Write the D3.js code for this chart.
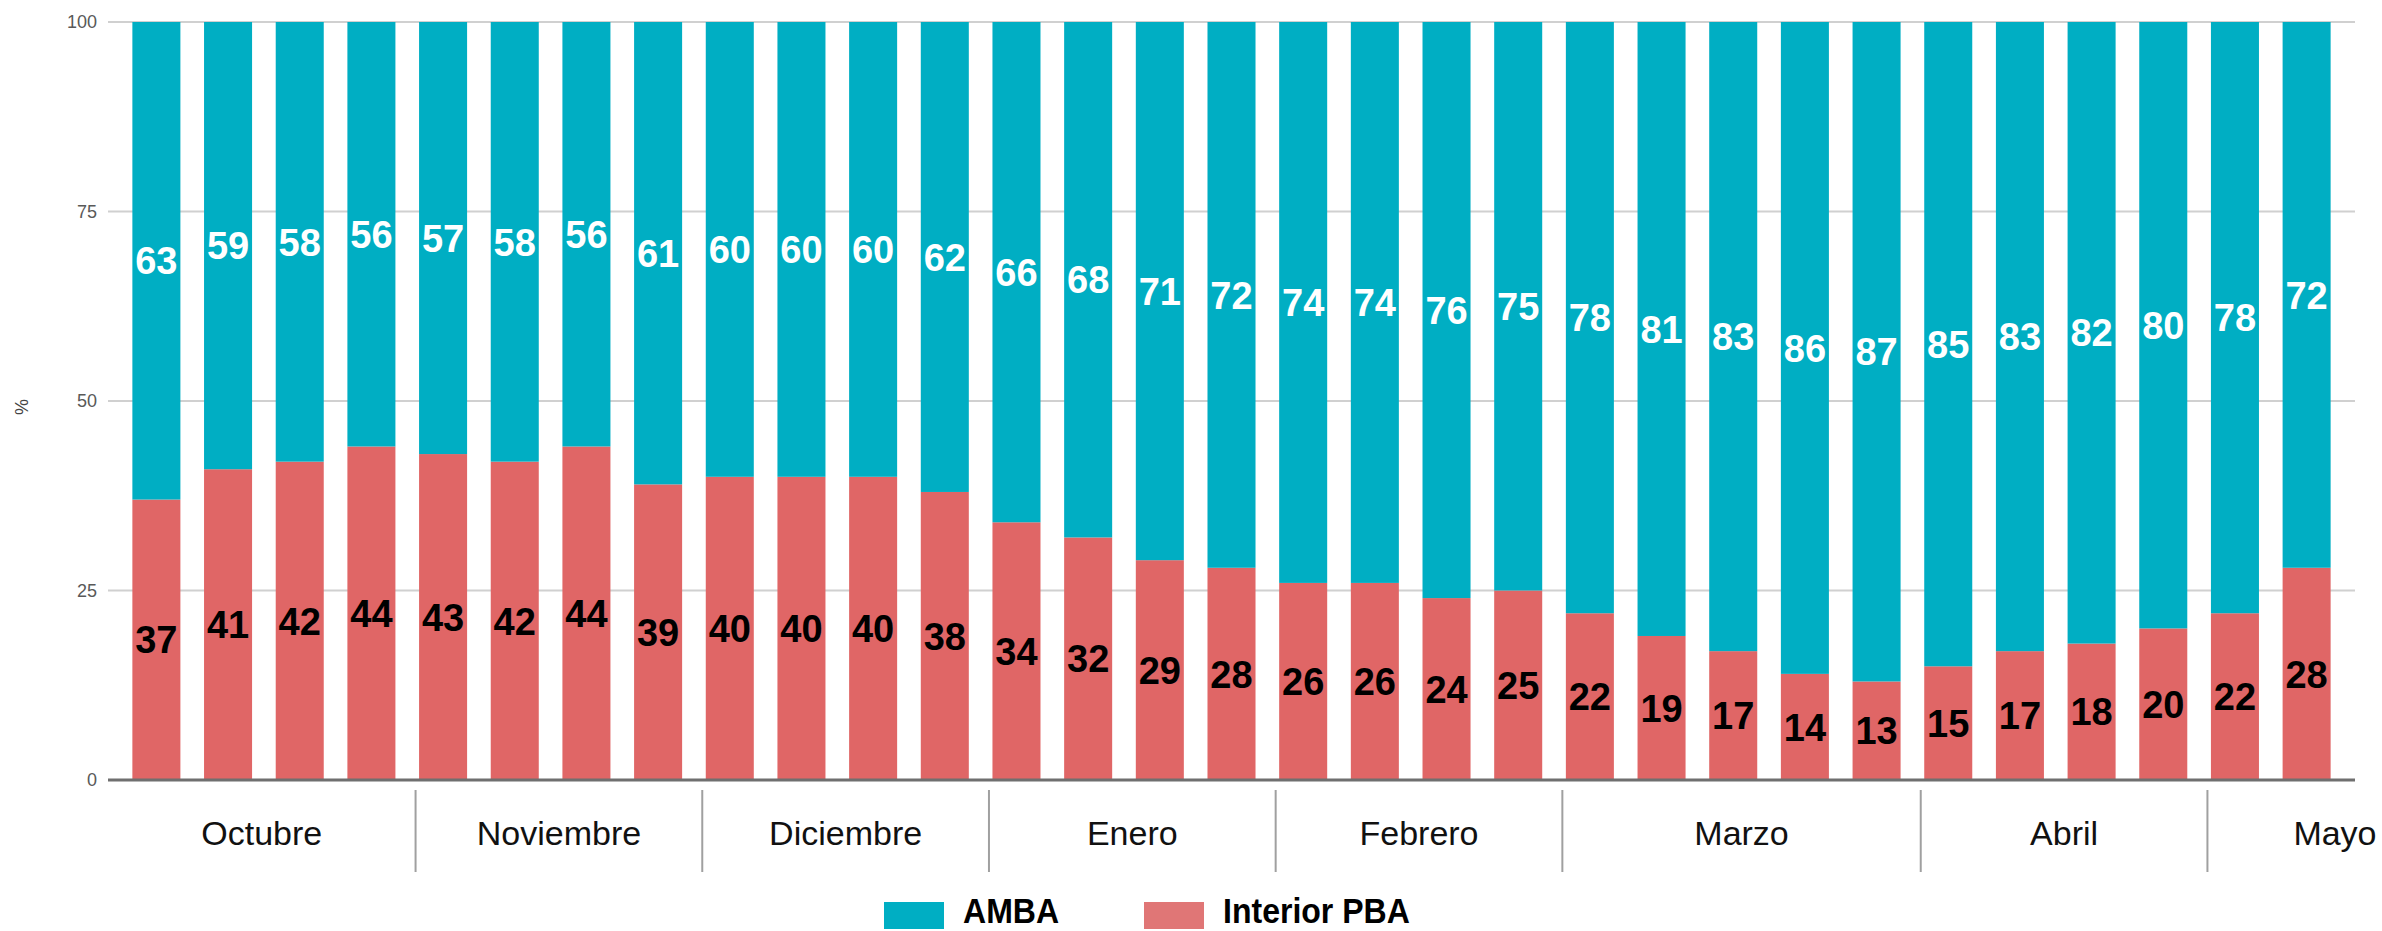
<!DOCTYPE html>
<html lang="es">
<head>
  <meta charset="UTF-8">
  <title>AMBA vs Interior PBA (%)</title>
  <script src="https://d3js.org/d3.v7.min.js"></script>
  <style>
    body {
      margin: 0;
      background: #fff;
      font-family: "Liberation Sans", Arial, sans-serif;
    }

    svg {
      display: block;
    }

    .grid line {
      stroke: #d0d0d0;
      stroke-width: 2px;
    }

    .tick-label {
      font-size: 18px;
      fill: #595959;
    }

    .value {
      font-size: 38px;
      font-weight: bold;
    }

    .month {
      font-size: 34px;
      fill: #111;
    }

    .legend {
      font-size: 36px;
      font-weight: bold;
      fill: #000;
    }
  </style>
</head>
<body>
  <svg width="2382" height="931"></svg>

  <script>
    // Data, one entry per bar (weekly shares, %)
    const amba     = [63, 59, 58, 56, 57, 58, 56, 61, 60, 60, 60, 62, 66, 68, 71, 72, 74, 74, 76, 75, 78, 81, 83, 86, 87, 85, 83, 82, 80, 78, 72];
    const interior = [37, 41, 42, 44, 43, 42, 44, 39, 40, 40, 40, 38, 34, 32, 29, 28, 26, 26, 24, 25, 22, 19, 17, 14, 13, 15, 17, 18, 20, 22, 28];
    const months    = ["Octubre", "Noviembre", "Diciembre", "Enero", "Febrero", "Marzo", "Abril", "Mayo"];
    const monthBars = [4, 4, 4, 4, 4, 5, 4, 2];
    const yTicks    = [0, 25, 50, 75, 100];
    const seriesNames = ["AMBA", "Interior PBA"];

    const svg = d3.select("svg");
    const margin = { top: 22, bottom: 151, left: 108, right: 27 };
    const width = 2382, height = 931;

    const colors = d3.scaleOrdinal()
      .domain(seriesNames)
      .range(["#00aec3", "#e06666"]);

    const x = d3.scaleBand()
      .domain(d3.range(amba.length))
      .range([margin.left, width - margin.right])
      .paddingInner(0.33)
      .paddingOuter(0.34);

    const y = d3.scaleLinear()
      .domain([0, 100])
      .range([height - margin.bottom, margin.top]);

    // Gridlines + tick labels
    const grid = svg.append("g").attr("class", "grid");
    grid.selectAll("line")
      .data(yTicks.filter(d => d > 0))
      .enter().append("line")
      .attr("x1", margin.left)
      .attr("x2", width - margin.right)
      .attr("y1", d => y(d))
      .attr("y2", d => y(d));

    svg.selectAll(".tick-label")
      .data(yTicks)
      .enter().append("text")
      .attr("class", "tick-label")
      .attr("x", margin.left - 11)
      .attr("y", d => y(d))
      .attr("dy", "0.35em")
      .attr("text-anchor", "end")
      .text(d => d);

    svg.append("text")
      .attr("transform", `translate(22,${(y(0) + y(100)) / 2 + 6}) rotate(-90)`)
      .attr("text-anchor", "middle")
      .attr("dy", "0.35em")
      .style("font-size", "18px")
      .style("fill", "#444")
      .text("%");

    // Stacked bars
    const rows = amba.map((a, i) => ({ i, amba: a, interior: interior[i] }));

    const bars = svg.append("g");
    bars.selectAll(".bar-int")
      .data(rows)
      .enter().append("rect")
      .attr("x", d => x(d.i))
      .attr("width", x.bandwidth())
      .attr("y", d => y(d.interior))
      .attr("height", d => y(0) - y(d.interior))
      .attr("fill", colors("Interior PBA"));

    bars.selectAll(".bar-amba")
      .data(rows)
      .enter().append("rect")
      .attr("x", d => x(d.i))
      .attr("width", x.bandwidth())
      .attr("y", d => y(d.interior + d.amba))
      .attr("height", d => y(d.interior) - y(d.interior + d.amba))
      .attr("fill", colors("AMBA"));

    // Zero axis line
    svg.append("line")
      .attr("x1", margin.left)
      .attr("x2", width - margin.right)
      .attr("y1", y(0))
      .attr("y2", y(0))
      .attr("stroke", "#6f6f6f")
      .attr("stroke-width", 3);

    // Value labels
    svg.selectAll(".v-amba")
      .data(rows)
      .enter().append("text")
      .attr("class", "value")
      .attr("x", d => x(d.i) + x.bandwidth() / 2)
      .attr("y", d => (y(d.interior) + y(d.interior + d.amba)) / 2)
      .attr("dy", "0.36em")
      .attr("text-anchor", "middle")
      .attr("fill", "#fff")
      .text(d => d.amba);

    svg.selectAll(".v-int")
      .data(rows)
      .enter().append("text")
      .attr("class", "value")
      .attr("x", d => x(d.i) + x.bandwidth() / 2)
      .attr("y", d => (y(0) + y(d.interior)) / 2)
      .attr("dy", "0.36em")
      .attr("text-anchor", "middle")
      .attr("fill", "#000")
      .text(d => d.interior);

    // Month groups: separators and labels
    const starts = monthBars.map((n, k) => d3.sum(monthBars.slice(0, k)));
    const seps = starts.slice(1).map(s => x(s) - 3.5);
    const bounds = [margin.left, ...seps, width - margin.right + 1.5 * x.step()];

    svg.selectAll(".sep")
      .data(seps)
      .enter().append("line")
      .attr("x1", d => d)
      .attr("x2", d => d)
      .attr("y1", y(0) + 10)
      .attr("y2", y(0) + 92)
      .attr("stroke", "#a0a0a0")
      .attr("stroke-width", 2);

    svg.selectAll(".month")
      .data(months)
      .enter().append("text")
      .attr("class", "month")
      .attr("x", (d, k) => (bounds[k] + bounds[k + 1]) / 2)
      .attr("y", y(0) + 65)
      .attr("text-anchor", "middle")
      .text(d => d);

    // Legend (text squeezed to mimic the condensed face)
    const legendX = [884, 1144];
    const legend = svg.selectAll(".legend-item")
      .data(seriesNames)
      .enter().append("g")
      .attr("transform", (d, i) => `translate(${legendX[i]},902)`);

    legend.append("rect")
      .attr("width", 60)
      .attr("height", 27)
      .attr("fill", (d, i) => i === 0 ? colors(d) : "#e07676");

    legend.append("text")
      .attr("class", "legend")
      .attr("transform", "translate(79,21) scale(0.89,1)")
      .text(d => d);
  </script>
</body>
</html>
